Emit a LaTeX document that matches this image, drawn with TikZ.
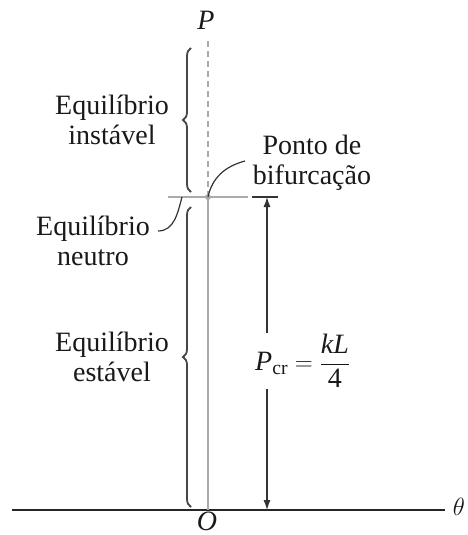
\documentclass[tikz,border=0pt]{standalone}
\usepackage{amsmath}
\usepackage{fontspec}
\setmainfont{Liberation Serif}
\usetikzlibrary{arrows.meta, decorations.pathreplacing, calc}
\definecolor{bifgray}{RGB}{170,170,170}
\definecolor{bracegray}{RGB}{70,70,70}

\begin{document}
\begin{tikzpicture}[x=1pt, y=-1pt,
  lbl/.style={align=center, font=\fontsize{28}{30}\selectfont, inner sep=1pt, text=black!90},
  axisline/.style={line width=1.3pt, black!85},
  bifline/.style={line width=2.2pt, bifgray},
  brc/.style={decorate, decoration={brace, amplitude=8pt}, line width=1.8pt, bracegray},
  dim/.style={line width=1.1pt, black!80},
  arr/.style={-{Latex[length=10pt, width=7pt]}, dim},
  lead/.style={line width=1.2pt, black!80}
]
\useasboundingbox (0,0) rectangle (467,535);
% axes
\coordinate (O) at (208,510);
\coordinate (B) at (208,197);
\coordinate (top) at (208,40);
\coordinate (axl) at (12,510);
\coordinate (axr) at (445,510);
\node[lbl] (theta) at (459,507) {$\theta$};
\node[lbl] (P) at (206,20) {\itshape P};
\node[lbl, inner sep=0pt] (Olbl) at (207,521) {\itshape O};
\draw[axisline] (axl) -- (axr);
\draw[bifline] (O) -- (B);
\draw[bifline, dashed, dash pattern=on 6pt off 4pt, line width=1.5pt] (B) -- (top);
% bifurcation line
\coordinate (bl) at (168,197);
\coordinate (br) at (248,197);
\draw[bifline] (bl) -- (br);
\fill[bifgray] (B) circle (3pt);
% dimension P_cr
\coordinate (tl) at (252,197);
\coordinate (tr) at (278,197);
\coordinate (dimtop) at (267,197);
\coordinate (dimbot) at (267,510);
\draw[dim] (tl) -- (tr);
\node[lbl, anchor=west] (pcr) at (254,361) {$\textit{P}_{\textrm{cr}} = \dfrac{\textit{kL}}{\textrm{4}}$};
\draw[arr] (pcr.north -| dimtop) -- (dimtop);
\draw[arr] (pcr.south -| dimtop) -- (dimbot);
% braces
\draw[brc] (191,192) -- (191,48);
\draw[brc] (191,507) -- (191,207);
\node[lbl] (inst) at (112,120) {Equilíbrio\\instável};
\node[lbl] (est) at (112,357) {Equilíbrio\\estável};
\node[lbl] (neu) at (93,241) {Equilíbrio\\neutro};
\node[lbl] (ponto) at (312,163) {Ponto de\\bifurcação};
% leaders
\coordinate (neuend) at (182,197);
\coordinate (neustart) at (158,231);
\coordinate (pontoend) at (245,161);
\draw[lead] (neustart) to[out=0, in=255] (neuend);
\draw[lead] (B) to[out=78, in=195] (pontoend);
\end{tikzpicture}
\end{document}
